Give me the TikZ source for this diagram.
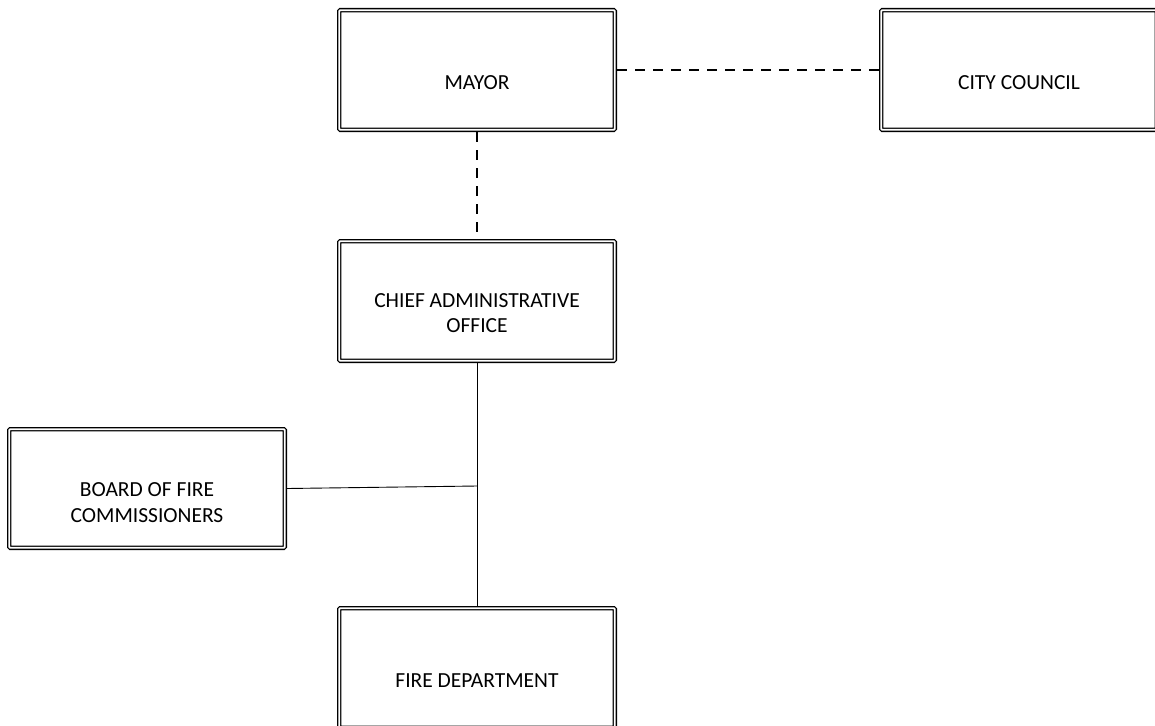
\documentclass[tikz,border=0pt]{standalone}
\usepackage{fontspec}
\setmainfont{Carlito}
\begin{document}
\begin{tikzpicture}[x=1pt,y=-1pt,
  orgbox/.style={draw=black, double=white, line width=1.35pt, double distance=1.7pt,
    rounded corners=1pt, minimum width=275.6pt, minimum height=119.6pt,
    inner sep=0pt, outer sep=2.2pt},
  boxlabel/.style={align=center, inner sep=0pt, font=\fontsize{21.5}{25.5}\selectfont},
  dashlink/.style={draw=black, line width=1.3pt, dash pattern=on 10pt off 8pt},
  solidlink/.style={draw=black, line width=0.9pt}]
\useasboundingbox (0,0) rectangle (1155,725);

% boxes
\node[orgbox] (mayor) at (477,70) {};
\node[orgbox] (council) at (1019,70) {};
\node[orgbox] (cao) at (477,301) {};
\node[orgbox, minimum height=118.6pt] (board) at (147,488.5) {};
\node[orgbox] (fire) at (477,668) {};

% labels, set a little below each box centre
\node[boxlabel] (mayor-t) at ([yshift=-13pt]mayor.center) {MAYOR};
\node[boxlabel] (council-t) at ([yshift=-13pt]council.center) {CITY COUNCIL};
\node[boxlabel] (cao-t) at ([yshift=-12pt]cao.center) {CHIEF ADMINISTRATIVE\\OFFICE};
\node[boxlabel] (board-t) at ([yshift=-14pt]board.center) {BOARD OF FIRE\\COMMISSIONERS};
\node[boxlabel] (fire-t) at ([yshift=-13pt]fire.center) {FIRE DEPARTMENT};

% connectors
\draw[dashlink] (mayor.east) -- (council.west);
\draw[dashlink] (mayor.south) -- (cao.north);
\draw[solidlink] (cao.south) -- (fire.north);
\coordinate (junction) at (477,486);
\draw[solidlink] (board.east) -- (junction);
\end{tikzpicture}
\end{document}
